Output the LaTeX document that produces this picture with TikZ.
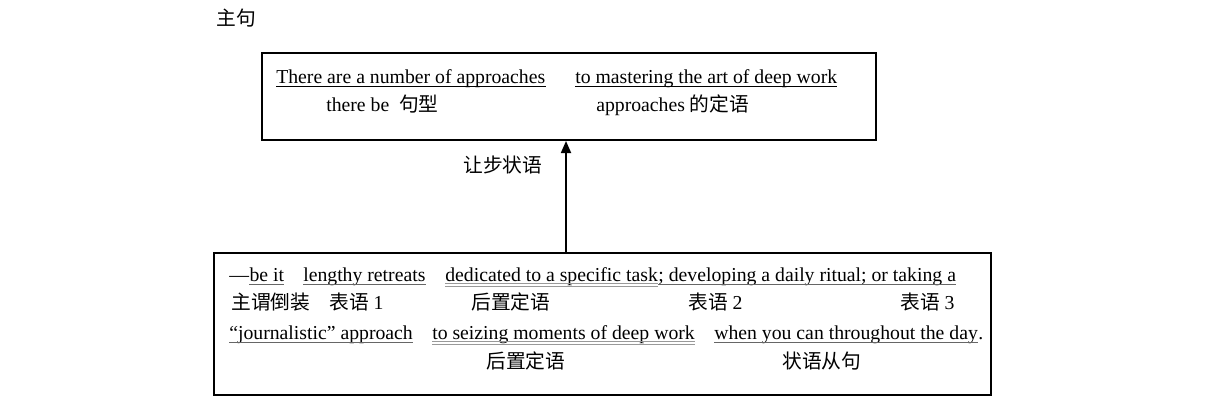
\documentclass[tikz,border=0pt]{standalone}
\usepackage{fontspec}
\setmainfont{Liberation Serif}
\newfontfamily\cjk[Scale=1.0]{Noto Sans CJK SC}
\usetikzlibrary{arrows.meta}
\begin{document}
\begin{tikzpicture}[x=0.75pt,y=-0.75pt,
  txt/.style={anchor=base west,inner sep=0pt,font=\fontsize{14.8}{18}\selectfont},
  topbox/.style={draw,line width=1.5pt,inner sep=0pt},
  botbox/.style={draw,line width=1pt,inner sep=0pt},
  ulk/.style={line width=0.8pt,black},
  ulg/.style={line width=0.8pt,black!60},
  arr/.style={line width=1.3pt,-{Triangle[width=7.5pt,length=9pt]}}]
\useasboundingbox (0,0) rectangle (1213,412);
% boxes
\node[topbox,minimum width=460.5pt,minimum height=65.25pt] (top) at (569,96.5) {};
\node[botbox,minimum width=582.75pt,minimum height=106.5pt] (bot) at (602.5,324) {};
\coordinate (ax) at (566,0);
\draw[arr] (bot.north -| ax) -- (top.south -| ax);
% labels outside
\node[txt] (zj) at (216,25) {\cjk 主句};
\node[txt] (rb) at (463,172) {\cjk 让步状语};
% top box text
\node[txt] (t1) at (276,83) {There are a number of approaches};
\node[txt] (t2) at (575,83) {to mastering the art of deep work};
\node[txt] (t3) at (326,111) {there be\ \ {\cjk 句型}};
\node[txt] (t4) at (596,111) {approaches {\cjk 的定语}};
\draw[ulk] ([yshift=-2.6pt]t1.base west) -- ([yshift=-2.6pt]t1.base east);
\draw[ulk] ([yshift=-2.6pt]t2.base west) -- ([yshift=-2.6pt]t2.base east);
% bottom box row 1
\node[txt] (dash) at (229,281) {—};
\node[txt] (b1) at (dash.base east) {be it};
\node[txt] (b2) at (303,281) {lengthy retreats};
\node[txt] (b3) at (445,281) {dedicated to a specific task};
\node[txt] (b4) at (b3.base east) {; developing a daily ritual; or taking a};
\draw[ulg] ([yshift=-2.6pt]b1.base west) -- ([yshift=-2.6pt]b1.base east);
\draw[ulg] ([yshift=-2.6pt]b2.base west) -- ([yshift=-2.6pt]b2.base east);
\draw[ulg,black!40] ([yshift=-2.2pt]b3.base west) -- ([yshift=-2.2pt]b3.base east);
\draw[ulg,black!40] ([yshift=-3.8pt]b3.base west) -- ([yshift=-3.8pt]b3.base east);
\draw[ulg] ([yshift=-2.6pt]b4.base west) -- ([yshift=-2.6pt]b4.base east);
% row 2
\node[txt] (l1) at (231,309) {\cjk 主谓倒装};
\node[txt] (l2) at (329,309) {{\cjk 表语} 1};
\node[txt] (l3) at (471,309) {\cjk 后置定语};
\node[txt] (l4) at (688,309) {{\cjk 表语} 2};
\node[txt] (l5) at (900,309) {{\cjk 表语} 3};
% row 3
\node[txt] (c1) at (229,339) {“journalistic” approach};
\node[txt] (c2) at (432,339) {to seizing moments of deep work};
\node[txt] (c3) at (714,339) {when you can throughout the day};
\node[txt] (c4) at (c3.base east) {.};
\draw[ulg] ([yshift=-2.6pt]c1.base west) -- ([yshift=-2.6pt]c1.base east);
\draw[ulg,black!40] ([yshift=-2.2pt]c2.base west) -- ([yshift=-2.2pt]c2.base east);
\draw[ulg,black!40] ([yshift=-3.8pt]c2.base west) -- ([yshift=-3.8pt]c2.base east);
\draw[ulg] ([yshift=-2.6pt]c3.base west) -- ([yshift=-2.6pt]c3.base east);
% row 4
\node[txt] (d1) at (486,368) {\cjk 后置定语};
\node[txt] (d2) at (782,368) {\cjk 状语从句};
\end{tikzpicture}
\end{document}
